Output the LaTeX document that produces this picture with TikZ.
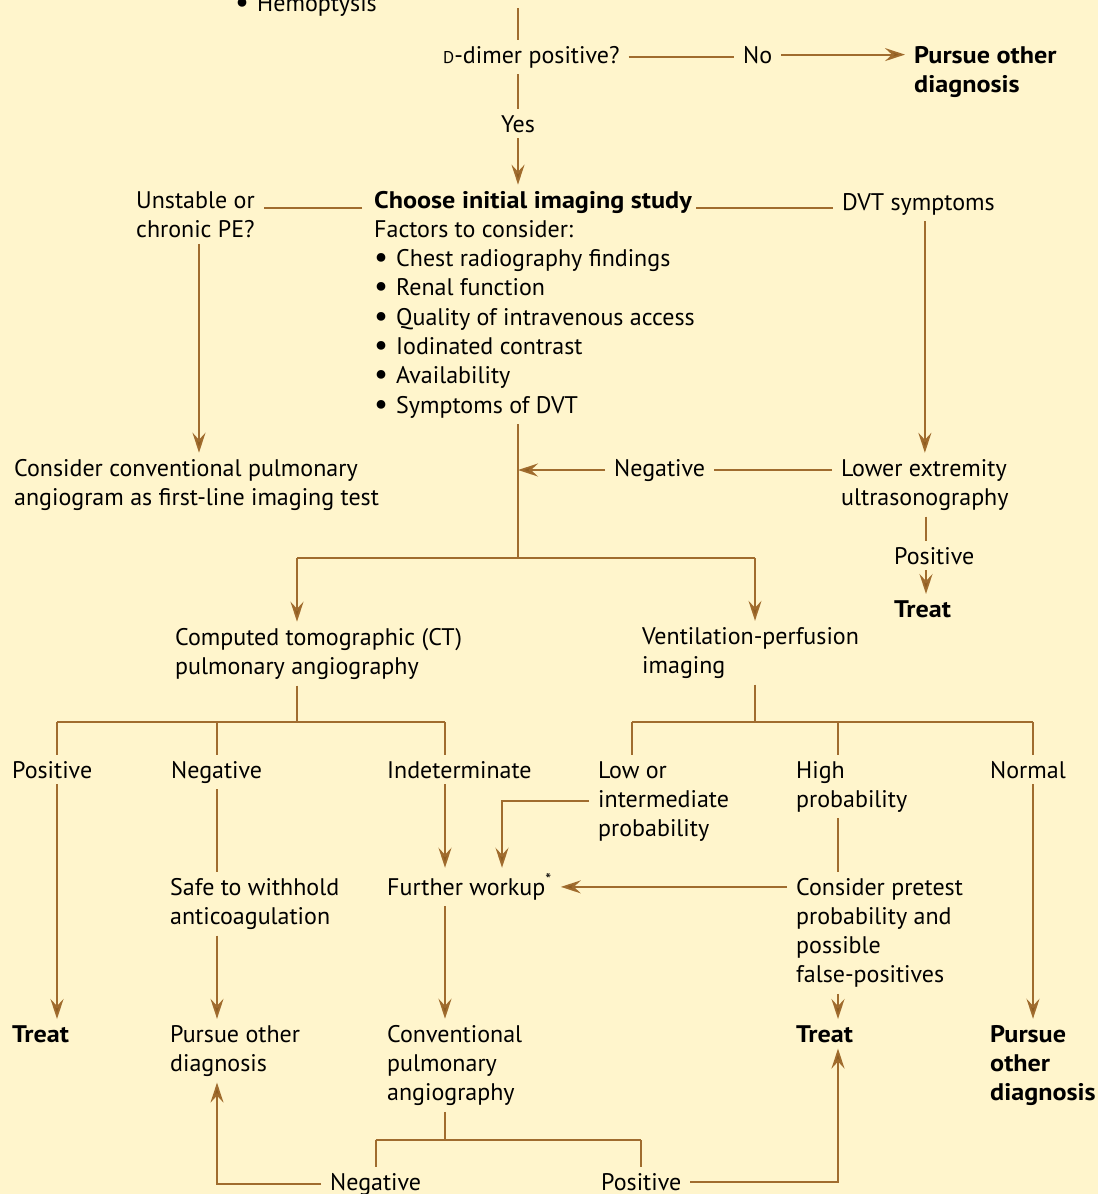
\documentclass[tikz,border=0pt]{standalone}
\usepackage{fontspec}
\setmainfont{PT Sans}[BoldFeatures={FakeStretch=1.09}]
\usetikzlibrary{arrows.meta}
\definecolor{bgc}{HTML}{FFF5CC}
\definecolor{lnc}{HTML}{A06C2E}
\definecolor{arc}{HTML}{8E5C20}
\tikzset{
  txt/.style={anchor=base west, align=left, inner xsep=9pt, inner ysep=6pt,
    font=\fontsize{24}{29.3}\selectfont, text=black},
  bold/.style={txt, font=\fontsize{24}{29.3}\selectfont\bfseries},
  ln/.style={draw=lnc, line width=1.8pt},
  arr/.style={ln, -{Stealth[length=20pt, width=13pt, inset=7pt, fill=arc]}},
}
\newcommand{\bul}{\makebox[22pt][l]{\raisebox{-1pt}{\fontsize{31}{29.3}\selectfont\textbullet}}}
\begin{document}
\begin{tikzpicture}[x=1pt, y=-1pt]
\fill[bgc] (0,0) rectangle (1098,1194);
\useasboundingbox (0,0) rectangle (1098,1194);

% nodes (x = text left - 9, y = baseline of the last line)
\node[txt] (hemo) at (226,11) {\bul Hemoptysis};
\node[txt] (ddimer) at (434,63) {{\fontsize{17}{20}\selectfont D}-dimer positive?};
\node[txt] (no) at (734,63) {No};
\node[bold] (pursue1) at (905,92.3) {Pursue other\\diagnosis};
\node[txt] (yes) at (492,132) {Yes};
\node[txt] (choose) at (365,413.1) {\textbf{Choose initial imaging study}\\Factors to consider:\\\bul Chest radiography findings\\\bul Renal function\\\bul Quality of intravenous access\\\bul Iodinated contrast\\\bul Availability\\\bul Symptoms of DVT};
\node[txt] (unstable) at (127,237.3) {Unstable or\\chronic PE?};
\node[txt] (dvt) at (833,210) {DVT symptoms};
\node[txt] (consider) at (5,505.3) {Consider conventional pulmonary\\angiogram as first-line imaging test};
\node[txt] (lower) at (832,505.3) {Lower extremity\\ultrasonography};
\node[txt] (neg1) at (605,476) {Negative};
\node[txt] (pos1) at (885,564) {Positive};
\node[bold] (treat1) at (885,617) {Treat};
\node[txt] (ct) at (166,674.3) {Computed tomographic (CT)\\pulmonary angiography};
\node[txt] (vq) at (633,673.3) {Ventilation-perfusion\\imaging};
\node[txt] (posct) at (3,778) {Positive};
\node[txt] (negct) at (162,778) {Negative};
\node[txt] (indet) at (378,778) {Indeterminate};
\node[txt] (lowint) at (589,836.6) {Low or\\intermediate\\probability};
\node[txt] (high) at (787,807.3) {High\\probability};
\node[txt] (normal) at (981,778) {Normal};
\node[txt] (safe) at (161,924.3) {Safe to withhold\\anticoagulation};
\node[txt] (further) at (378,895) {Further workup\textsuperscript{*}};
\node[txt] (pretest) at (787,982.9) {Consider pretest\\probability and\\possible\\false-positives};
\node[bold] (treatA) at (3,1042) {Treat};
\node[txt] (pursue2) at (161,1071.3) {Pursue other\\diagnosis};
\node[txt] (conv) at (378,1100.6) {Conventional\\pulmonary\\angiography};
\node[bold] (treatB) at (787,1042) {Treat};
\node[bold] (pursue3) at (981,1100.6) {Pursue\\other\\diagnosis};
\node[txt] (negc) at (321,1190) {Negative};
\node[txt] (posc) at (592,1190) {Positive};

% junction coordinates
\coordinate (topin) at (518,8);
\coordinate (cL) at (362,208);
\coordinate (cR) at (696,208);
\coordinate (xU) at (199,0);
\coordinate (split) at (518,558);
\coordinate (sL) at (297,558);
\coordinate (sR) at (755,558);
\coordinate (xP) at (926,0);
\coordinate (jCT) at (297,722);
\coordinate (xA) at (57,722);
\coordinate (xB) at (217,722);
\coordinate (xC) at (445,722);
\coordinate (jVQ) at (755,722);
\coordinate (xD) at (632,722);
\coordinate (xE) at (838,722);
\coordinate (xF) at (1033,722);
\coordinate (xG) at (502,0);
\coordinate (jCV) at (445,1140);

% connectors
\draw[ln] (topin) -- (topin |- ddimer.north);
\draw[ln] (topin |- ddimer.south) -- (topin |- yes.north);
\draw[arr] (topin |- yes.south) -- (topin |- choose.north);
\draw[ln] (ddimer.east) -- (no.west |- ddimer.east);
\draw[arr] (no.east) -- (no.east -| pursue1.west);
\draw[ln] (cL) -- (cL -| unstable.east);
\draw[ln] (cR) -- (cR -| dvt.west);
\draw[arr] (xU |- unstable.south) -- (xU |- consider.north);
\draw[arr] (lower.north |- dvt.south) -- (lower.north);
\draw[ln] (neg1.east -| lower.west) -- (neg1.east);
\draw[arr] (neg1.west) -- (neg1.west -| split);
\draw[ln] (split |- choose.south) -- (split);
\draw[ln] (sL) -- (sR);
\draw[arr] (sL) -- (sL |- ct.north);
\draw[arr] (sR) -- (sR |- vq.north);
\draw[ln] (xP |- lower.south) -- (xP |- pos1.north);
\draw[arr] (xP |- pos1.south) -- (xP |- treat1.north);
% CT branch
\draw[ln] (jCT |- ct.south) -- (jCT);
\draw[ln] (xA) -- (xC);
\draw[ln] (xA) -- (xA |- posct.north);
\draw[ln] (xB) -- (xB |- negct.north);
\draw[ln] (xC) -- (xC |- indet.north);
\draw[arr] (xA |- posct.south) -- (xA |- treatA.north);
\draw[ln] (xB |- negct.south) -- (xB |- safe.north);
\draw[arr] (xB |- safe.south) -- (xB |- pursue2.north);
\draw[arr] (xC |- indet.south) -- (xC |- further.north);
\draw[arr] (xC |- further.south) -- (xC |- conv.north);
% V/Q branch
\draw[ln] (jVQ |- vq.south) -- (jVQ);
\draw[ln] (xD) -- (xF);
\draw[ln] (xD) -- (xD |- lowint.north);
\draw[ln] (xE) -- (xE |- high.north);
\draw[ln] (xF) -- (xF |- normal.north);
\draw[arr] (lowint.west) -| (xG |- further.north);
\draw[ln] (xE |- high.south) -- (xE |- pretest.north);
\draw[arr] (further.east -| pretest.west) -- (further.east);
\draw[arr] (xE |- pretest.south) -- (xE |- treatB.north);
\draw[arr] (xF |- normal.south) -- (xF |- pursue3.north);
% conventional angiography
\draw[ln] (jCV |- conv.south) -- (jCV);
\draw[ln] (negc.north |- jCV) -- (posc.north |- jCV);
\draw[ln] (negc.north |- jCV) -- (negc.north);
\draw[ln] (posc.north |- jCV) -- (posc.north);
\draw[arr] (negc.west) -| (xB |- pursue2.south);
\draw[arr] (posc.east) -| (xE |- treatB.south);
\end{tikzpicture}
\end{document}
